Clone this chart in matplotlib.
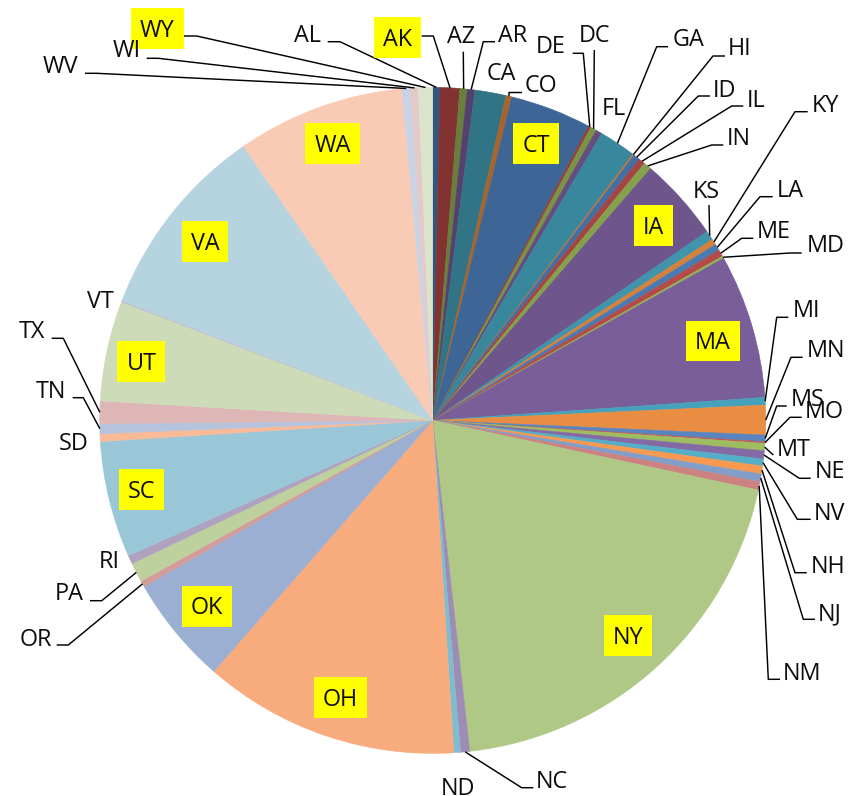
import matplotlib
matplotlib.use("Agg")
import matplotlib.pyplot as plt
from matplotlib.patches import Rectangle
import numpy as np

# ---------------- data ----------------
states = ["AL", "AK", "AZ", "AR", "CA", "CO", "CT", "DE", "DC", "FL", "GA", "HI",
          "ID", "IL", "IN", "IA", "KS", "KY", "LA", "ME", "MD", "MA", "MI", "MN",
          "MS", "MO", "MT", "NE", "NV", "NH", "NJ", "NM", "NY", "NC", "ND", "OH",
          "OK", "OR", "PA", "RI", "SC", "SD", "TN", "TX", "UT", "VT", "VA", "WA",
          "WV", "WI", "WY"]
values = [1.26, 3.44, 1.26, 1.34, 5.43, 1.03, 14.16, 0.44, 1.05, 1.07, 6.42, 0.30,
          1.15, 1.13, 1.39, 14.58, 1.65, 1.00, 1.17, 1.18, 0.41, 25.16, 1.33, 5.16,
          1.16, 0.27, 1.28, 1.44, 1.21, 1.39, 1.34, 1.47, 71.51, 1.60, 1.15, 44.72,
          18.98, 1.07, 3.40, 1.50, 20.30, 1.36, 1.74, 3.90, 17.50, 0.20, 34.30, 29.30,
          1.55, 1.30, 2.48]
highlighted = ["AK", "CT", "IA", "MA", "NY", "OH", "OK", "SC", "UT", "VA", "WA", "WY"]

# ---------------- style / layout ----------------
base_cols = np.array([[79, 129, 189], [192, 80, 77], [155, 187, 89],
                      [128, 100, 162], [75, 172, 198], [247, 150, 70]]) / 255.0
# per colour round: shade (<1) or tint (>=0 written as 1+tint) in linear RGB
round_mods = [("shade", 0.42), ("shade", 0.59), ("shade", 0.72), ("shade", 0.88),
              ("tint", 0.02), ("tint", 0.155), ("tint", 0.27), ("tint", 0.42),
              ("tint", 0.55)]


def to_lin(c):
    return np.where(c <= 0.04045, c / 12.92, ((c + 0.055) / 1.055) ** 2.4)


def to_srgb(c):
    return np.where(c <= 0.0031308, c * 12.92, 1.055 * c ** (1 / 2.4) - 0.055)


def slice_color(i):
    lin = to_lin(base_cols[i % 6])
    kind, m = round_mods[i // 6]
    lin = lin * m if kind == "shade" else lin + (1 - lin) * m
    return tuple(np.clip(to_srgb(lin), 0, 1))


W, H = 856, 796
CX, CY, R = 432.7, 420.4, 333.0


def P(x, y):
    """pixel (top-left origin) -> data coordinates"""
    return ((x - CX) / R, (CY - y) / R)


# label layout in pixels: text centre x, baseline y, leader points (near label)
layout = {
    "AL": (308, 41.7, [(327.7, 41.7), (340, 41.7)]),
    "AK": (397.7, 46, [(421.7, 36), (433.3, 36)]),
    "AZ": (461, 43.3, [(463.3, 51.7)]),
    "AR": (512.5, 42, [(495, 41.7), (483.3, 41.7)]),
    "CA": (501.7, 80, None),
    "CO": (540.8, 91.7, [(522, 92.5), (509, 92.5)]),
    "CT": (536, 151.5, None),
    "DE": (551, 53, [(572.7, 53.3), (583.3, 53.3)]),
    "DC": (594.5, 42, [(594.3, 50)]),
    "FL": (614, 115, None),
    "GA": (689, 46, [(668, 46.7), (656.7, 46.7)]),
    "HI": (740, 55, [(725, 56), (713, 56)]),
    "ID": (724, 97, [(710, 96), (698.3, 96)]),
    "IL": (756, 107, [(743.3, 106), (731.7, 106)]),
    "IN": (738.3, 145, [(723.3, 145), (711.7, 145)]),
    "IA": (653.5, 233.5, None),
    "KS": (706.7, 198, [(709, 205)]),
    "KY": (825, 112, [(807.7, 111.7), (795, 111.7)]),
    "LA": (790, 196.7, [(772.7, 196.7), (760, 196.7)]),
    "ME": (774, 238, [(753.3, 238.3), (741.7, 238.3)]),
    "MD": (825.5, 252, [(801.7, 253), (790, 253)]),
    "MA": (713, 349.3, None),
    "MI": (806.7, 317, [(788.3, 317.3), (776.7, 317.3)]),
    "MN": (825.8, 357, [(802.7, 357.3), (791, 357.3)]),
    "MS": (807.5, 406, [(786.7, 406), (776.7, 406)]),
    "MO": (824, 418, [(801.7, 417.3), (790, 417.3)]),
    "MT": (793.3, 456, [(773.3, 455)]),
    "NE": (830, 478, [(810.7, 478.3), (799.3, 478.3)]),
    "NV": (829, 520, [(810.7, 519.3), (797.3, 519.3)]),
    "NH": (828.3, 573, [(806.7, 572.7), (795, 572.7)]),
    "NJ": (830, 620, [(815, 619.3), (803.3, 619.3)]),
    "NM": (801.7, 680, [(780, 679.3), (768.3, 679.3)]),
    "NY": (628, 643.5, None),
    "NC": (551.7, 788.3, [(533.3, 787.7), (521.7, 787.7)]),
    "ND": (457.5, 795, None),
    "OH": (340.5, 705.5, None),
    "OK": (207, 614.5, None),
    "OR": (35.5, 646, [(56.7, 645), (68.3, 645)]),
    "PA": (69, 600, [(90, 600.7), (101.7, 600.7)]),
    "RI": (109, 568.3, None),
    "SC": (141.5, 498, None),
    "SD": (73.3, 450, None),
    "TN": (51.3, 398, [(72.7, 397.7), (83.3, 397.7)]),
    "TX": (31.7, 338.3, [(51.7, 338.3), (63.3, 338.3)]),
    "UT": (141.5, 369.5, None),
    "VT": (100.3, 308, None),
    "VA": (205, 250, None),
    "WA": (332.5, 152, None),
    "WV": (60.3, 73.3, [(85, 73.3), (96.7, 73.3)]),
    "WI": (126.7, 57.3, [(146.7, 58.3), (158.3, 58.3)]),
    "WY": (157.5, 36.7, [(184, 36), (196.7, 36)]),
}

FONT = "Open Sans"
FS = 16.8
CAP = 16.7

fig = plt.figure(figsize=(W / 100, H / 100), dpi=100)
ax = fig.add_axes([0, 0, 1, 1])

colors = [slice_color(i) for i in range(len(values))]
wedges, _ = ax.pie(values, colors=colors, startangle=90, counterclock=False,
                   radius=1.0, center=(0, 0))
for w_, c in zip(wedges, colors):
    w_.set_edgecolor(c)
    w_.set_linewidth(0.4)

ax.set_xlim(P(0, 0)[0], P(W, 0)[0])
ax.set_ylim(P(0, H)[1], P(0, 0)[1])
ax.set_aspect("equal", adjustable="box")
ax.axis("off")

# mid-angle edge points, from the data
vals = np.array(values, dtype=float)
cum = np.cumsum(vals)
mid = (cum - vals / 2) / vals.sum() * 2 * np.pi  # clockwise from 12 o'clock
edge = {s: (np.sin(a), np.cos(a)) for s, a in zip(states, mid)}

texts = {}
for s in states:
    if s not in layout:
        continue
    cx, base, leader = layout[s]
    tx, ty = P(cx, base)
    texts[s] = ax.text(tx, ty, s, ha="center", va="baseline", fontsize=FS,
                       family=FONT, color="#0d0d0d", zorder=6)
    if leader:
        pts = [P(*p) for p in leader] + [edge[s]]
        xs, ys = zip(*pts)
        ax.plot(xs, ys, color="black", lw=1.05, solid_capstyle="butt",
                zorder=4)

fig.canvas.draw()
renderer = fig.canvas.get_renderer()
for s in highlighted:
    if s not in texts:
        continue
    cx, base, _ = layout[s]
    bb = texts[s].get_window_extent(renderer)
    bw = bb.width + 2 * 9.0
    bh = 40.7
    cyc = base - CAP / 2
    x0, y1 = cx - bw / 2, cyc + bh / 2
    ll = P(x0, y1)
    ax.add_patch(Rectangle(ll, bw / R, bh / R, facecolor="#ffff00",
                           edgecolor="none", zorder=5))

fig.savefig("out.png", dpi=100)
